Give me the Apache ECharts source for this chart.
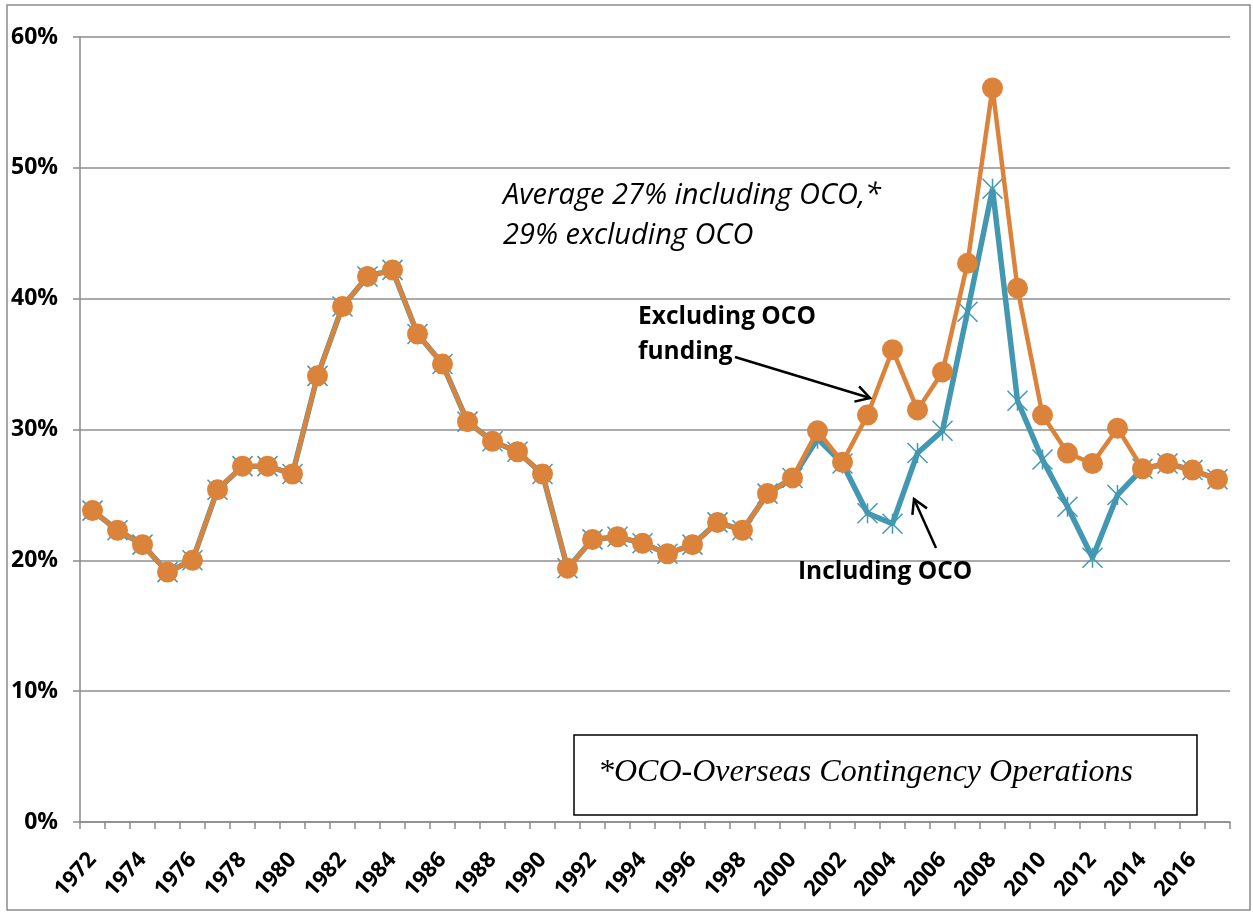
<!DOCTYPE html>
<html>
<head>
<meta charset="utf-8">
<script src="https://cdn.jsdelivr.net/npm/echarts@6/dist/echarts.min.js"></script>
<style>
html,body{margin:0;padding:0;background:#fff;}
#chart{width:1253px;height:914px;}
</style>
</head>
<body>
<div id="chart"></div>
<script>
// ---- Data ----
var years = ['1972','1973','1974','1975','1976','1977','1978','1979','1980','1981',
  '1982','1983','1984','1985','1986','1987','1988','1989','1990','1991',
  '1992','1993','1994','1995','1996','1997','1998','1999','2000','2001',
  '2002','2003','2004','2005','2006','2007','2008','2009','2010','2011',
  '2012','2013','2014','2015','2016','2017'];

var excludingOCO = [23.8,22.3,21.2,19.1,20.0,25.4,27.2,27.2,26.6,34.1,
  39.4,41.7,42.2,37.3,35.0,30.6,29.1,28.3,26.6,19.4,
  21.6,21.8,21.3,20.5,21.2,22.9,22.3,25.1,26.3,29.9,
  27.5,31.1,36.1,31.5,34.4,42.7,56.1,40.8,31.1,28.2,
  27.4,30.1,27.0,27.4,26.9,26.2];

var includingOCO = [23.8,22.3,21.2,19.1,20.0,25.4,27.2,27.2,26.6,34.1,
  39.4,41.7,42.2,37.3,35.0,30.6,29.1,28.3,26.6,19.4,
  21.6,21.8,21.3,20.5,21.2,22.9,22.3,25.1,26.3,29.3,
  27.4,23.6,22.8,28.2,29.9,39.0,48.4,32.2,27.7,24.1,
  20.2,25.0,27.0,27.4,26.9,26.2];

var yTicks = [0,10,20,30,40,50,60];

var ORANGE = '#DB833B';
var BLUE = '#4398B1';

var chart = echarts.init(document.getElementById('chart'), null, {renderer:'canvas'});

function arrow(x1,y1,x2,y2){
  var ang = Math.atan2(y2-y1, x2-x1);
  var L = 16, a = Math.PI/6;
  var p1 = [x2 - L*Math.cos(ang - a), y2 - L*Math.sin(ang - a)];
  var p2 = [x2 - L*Math.cos(ang + a), y2 - L*Math.sin(ang + a)];
  return [
    {type:'line', shape:{x1:x1,y1:y1,x2:x2,y2:y2}, style:{stroke:'#000', lineWidth:2.5}, z:100},
    {type:'polyline', shape:{points:[p1,[x2,y2],p2]}, style:{stroke:'#000', lineWidth:2.5, fill:null}, z:100}
  ];
}

var SANS = '"Open Sans", Lato, sans-serif';

var graphics = [
  {type:'rect', shape:{x:7,y:5,width:1243,height:905}, style:{stroke:'#8a8a8a', lineWidth:1.5, fill:null}, z:-1, silent:true},
  {type:'text', x:503, y:181, style:{text:'Average 27% including OCO,*', font:'italic 29px ' + SANS, fill:'#000'}, z:100},
  {type:'text', x:503, y:221, style:{text:'29% excluding OCO', font:'italic 29px ' + SANS, fill:'#000'}, z:100},
  {type:'text', x:638, y:305, style:{text:'Excluding OCO', font:'bold 24.5px ' + SANS, fill:'#000'}, z:100},
  {type:'text', x:638, y:340, style:{text:'funding', font:'bold 24.5px ' + SANS, fill:'#000'}, z:100},
  {type:'text', x:798, y:560, style:{text:'Including OCO', font:'bold 24.5px ' + SANS, fill:'#000'}, z:100},
  {type:'rect', shape:{x:574,y:735,width:623,height:80}, style:{stroke:'#000', lineWidth:1.5, fill:'#fff'}, z:100},
  {type:'text', x:598, y:757, style:{text:'*OCO-Overseas Contingency Operations', font:'italic 32px "Liberation Serif", serif', fill:'#000'}, z:101}
].concat(arrow(735,357,870,398)).concat(arrow(936,548,914,499));

var option = {
  animation:false,
  backgroundColor:'#fff',
  grid:{left:80, right:23, top:37, bottom:92, containLabel:false},
  xAxis:{
    type:'category',
    data:years,
    boundaryGap:true,
    axisLine:{lineStyle:{color:'#8a8a8a', width:1.5}},
    axisTick:{show:true, interval:0, length:7, lineStyle:{color:'#8a8a8a', width:1.5}},
    axisLabel:{interval:1, rotate:48, margin:34, color:'#000', fontWeight:'bold', fontSize:22, fontFamily:SANS, hideOverlap:false}
  },
  yAxis:{
    type:'value',
    min:yTicks[0], max:yTicks[yTicks.length-1], interval:10,
    axisLine:{show:true, lineStyle:{color:'#8a8a8a', width:1.5}},
    axisTick:{show:true, length:7, lineStyle:{color:'#8a8a8a', width:1.5}},
    axisLabel:{formatter:'{value}%', margin:22, color:'#000', fontWeight:'bold', fontSize:23, fontFamily:SANS},
    splitLine:{show:true, lineStyle:{color:'#8f8f8f', width:1.5}}
  },
  series:[
    {
      name:'Including OCO',
      type:'line',
      data:includingOCO,
      symbol:'path://M0,0L20,20M20,0L0,20M10,0L10,20',
      symbolSize:20,
      showAllSymbol:true,
      lineStyle:{color:BLUE, width:5.5},
      itemStyle:{color:BLUE, borderColor:BLUE, borderWidth:1.5},
      z:2
    },
    {
      name:'Excluding OCO',
      type:'line',
      data:excludingOCO,
      symbol:'circle',
      symbolSize:21,
      showAllSymbol:true,
      lineStyle:{color:ORANGE, width:4.5},
      itemStyle:{color:ORANGE, borderWidth:0},
      z:3
    }
  ],
  graphic:graphics
};
chart.setOption(option);
</script>
</body>
</html>
